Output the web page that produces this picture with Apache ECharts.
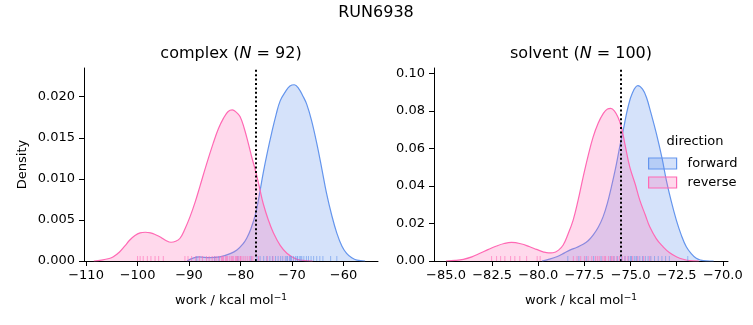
<!DOCTYPE html>
<html>
<head>
<meta charset="utf-8">
<script src="https://cdn.jsdelivr.net/npm/echarts@6/dist/echarts.min.js"></script>
<style>html,body{margin:0;padding:0;background:#fff}#c{width:753px;height:325px}</style>
</head>
<body>
<div id="c"></div>
<script>
// ---- data ----
const complexForwardWork    = [-90.4,-88,-86,-84,-82,-80.7,-79.5,-78.8,-78,-77.05,-76.3,-75.6,-74.8,-73.95,-73.1,-72.3,-71.3,-70.4,-69.55,-68.7,-67.9,-67.15,-66.2,-65.2,-64.2,-63.3,-62.3,-61.3,-60.3,-59.4,-58.4,-57.4,-55.8];
const complexForwardDensity = [0,0.0005,0.0004,0.0005,0.0009,0.00134,0.0021,0.00277,0.0039,0.0058,0.0082,0.0107,0.0132,0.0156,0.0178,0.0195,0.0206,0.0213,0.02146,0.0210,0.0201,0.0191,0.0171,0.01435,0.0112,0.00826,0.0056,0.0034,0.0018,0.00094,0.0004,0.0001,0];
const complexReverseWork    = [-108.5,-107,-105.5,-104.7,-103.5,-102.5,-101.5,-100.5,-99.5,-98.5,-97.5,-96.5,-95.5,-94.5,-93.5,-92.6,-91.75,-90.8,-89.8,-88.8,-87.9,-86.6,-85.3,-84.3,-83.3,-82.4,-81.6,-80.8,-80.1,-79.3,-78.5,-77.8,-77.05,-76.3,-75.6,-74.6,-73.6,-72.3,-71.0,-69.7,-68.45,-66.0];
const complexReverseDensity = [0,0.0001,0.0003,0.00052,0.0011,0.0018,0.00256,0.0031,0.00342,0.0035,0.00343,0.0032,0.0029,0.0025,0.00228,0.0024,0.00277,0.0039,0.0054,0.0072,0.00906,0.0118,0.01435,0.0161,0.0174,0.0182,0.0184,0.0181,0.0176,0.0162,0.01435,0.0126,0.0109,0.0089,0.0070,0.0050,0.0034,0.0019,0.00094,0.0004,0.0001,0];
const solventForwardWork    = [-79.8,-79.4,-79.0,-78.6,-78.29,-77.9,-77.57,-77.3,-77.03,-76.75,-76.49,-76.25,-76.04,-75.8,-75.59,-75.35,-75.14,-74.9,-74.6,-74.35,-74.14,-73.9,-73.6,-73.3,-73.06,-72.8,-72.52,-72.25,-71.98,-71.7,-71.44,-71.2,-70.9,-70.5];
const solventForwardDensity = [0,0.001,0.0023,0.0042,0.0058,0.0073,0.0089,0.0108,0.0138,0.018,0.0235,0.031,0.0394,0.050,0.0607,0.072,0.0819,0.0895,0.0934,0.0915,0.0872,0.079,0.0678,0.055,0.043,0.032,0.0218,0.0138,0.0076,0.0038,0.0014,0.0005,0.0001,0];
const solventReverseWork    = [-85.0,-84.5,-84.06,-83.6,-83.16,-82.7,-82.26,-81.85,-81.45,-80.95,-80.46,-80.1,-79.74,-79.45,-79.2,-78.9,-78.65,-78.4,-78.11,-77.85,-77.57,-77.3,-77.03,-76.75,-76.49,-76.25,-76.07,-75.88,-75.68,-75.5,-75.3,-75.04,-74.75,-74.5,-74.2,-73.96,-73.6,-73.24,-72.9,-72.52,-72.1,-71.8,-71.3];
const solventReverseDensity = [0,0.0003,0.0009,0.0022,0.0041,0.0062,0.008,0.0093,0.0099,0.0092,0.0076,0.0062,0.0049,0.0043,0.0044,0.0058,0.0085,0.014,0.0218,0.032,0.0447,0.056,0.066,0.0735,0.0784,0.081,0.0813,0.080,0.0766,0.0715,0.062,0.050,0.041,0.0324,0.0245,0.0182,0.0118,0.0076,0.0045,0.0023,0.0008,0.0002,0];

const complexForwardRug = [-88.5,-85.0,-84.2,-80.5,-78.0,-76.8,-76.2,-75.5,-74.9,-74.3,-73.8,-73.2,-72.7,-72.2,-71.8,-71.3,-71.0,-70.9,-70.5,-70.3,-70.1,-69.7,-69.3,-69.0,-68.9,-68.5,-68.3,-68.1,-67.7,-67.2,-66.8,-66.3,-65.8,-65.2,-64.6,-64.0,-62.5,-61.3];
const complexReverseRug = [-100.0,-99.5,-98.9,-98.1,-97.4,-96.6,-95.9,-95.0,-90.8,-90.2,-89.5,-88.7,-88.0,-87.4,-86.6,-86.1,-85.5,-85.0,-84.6,-84.1,-83.7,-83.5,-83.3,-82.9,-82.7,-82.5,-82.1,-81.8,-81.6,-81.4,-81.0,-80.8,-80.6,-80.3,-80.0,-79.9,-79.5,-79.1,-78.7,-78.3,-77.9,-77.6,-76.5,-74.8,-73.7];
const solventForwardRug = [-78.4,-77.8,-77.4,-77.0,-76.6,-76.1,-75.9,-75.7,-75.5,-75.3,-75.1,-75.0,-74.95,-74.8,-74.7,-74.65,-74.5,-74.35,-74.2,-74.05,-73.9,-73.7,-73.5,-73.3,-73.1,-72.9,-71.9];
const solventReverseRug = [-82.53,-82.26,-82.04,-81.81,-81.5,-81.27,-81.0,-80.63,-80.06,-79.9,-78.1,-77.9,-77.7,-77.5,-77.3,-77.1,-76.9,-76.8,-76.7,-76.5,-76.4,-76.35,-76.2,-76.05,-76.0,-75.9,-75.75,-75.6,-75.45,-75.3,-75.15,-74.9,-74.6,-74.3,-73.96];

const dottedWork = [-77.05, -75.55];

const complexXTicks = [-110,-100,-90,-80,-70,-60];
const solventXTicks = [-85,-82.5,-80,-77.5,-75,-72.5,-70];
const complexYTicks = [0,0.005,0.010,0.015,0.020];
const solventYTicks = [0,0.02,0.04,0.06,0.08,0.10];

const panelTitles = ['complex', 'solvent'];
const panelN = [92, 100];
const directions = ['forward', 'reverse'];
// ---------------------------------------

const FONT = 'DejaVu Sans';
const BLUE = '#6495ED', PINK = '#FF69B4';
const BLUE_FILL = 'rgba(100,149,237,0.27)', PINK_FILL = 'rgba(255,105,180,0.25)';
const minus = v => (v < 0 ? '\u2212' : '') + Math.abs(v);

function zip(a, b) { return a.map((x, i) => [x, b[i]]); }

const chart = echarts.init(document.getElementById('c'), null, {renderer: 'canvas'});

function xAxis(idx, min, max, ticks, fmt) {
  return {
    type: 'value', gridIndex: idx, min: min, max: max,
    axisLine: {onZero: false, lineStyle: {color: '#000', width: 1}},
    axisTick: {length: 5, lineStyle: {color: '#000'}, customValues: ticks},
    axisLabel: {customValues: ticks, formatter: fmt, color: '#000', fontSize: 13, fontFamily: FONT, margin: 8},
    splitLine: {show: false},
    name: 'work / kcal mol{sup|\u22121}', nameLocation: 'middle', nameGap: 32,
    nameTextStyle: {color: '#000', fontSize: 13, fontFamily: FONT,
      rich: {sup: {fontSize: 9, fontFamily: FONT, color: '#000', verticalAlign: 'top', padding: [0,0,6,0]}}}
  };
}
function yAxis(idx, max, ticks, fmt, name) {
  return {
    type: 'value', gridIndex: idx, min: 0, max: max,
    axisLine: {show: true, lineStyle: {color: '#000', width: 1}},
    axisTick: {show: true, length: 5, lineStyle: {color: '#000'}, customValues: ticks},
    axisLabel: {customValues: ticks, formatter: fmt, color: '#000', fontSize: 13, fontFamily: FONT, margin: 9},
    splitLine: {show: false},
    name: name, nameLocation: 'middle', nameGap: 55,
    nameTextStyle: {color: '#000', fontSize: 13, fontFamily: FONT}
  };
}

function kde(name, idx, work, dens, color, fill, z) {
  return {
    type: 'line', name: name, xAxisIndex: idx, yAxisIndex: idx,
    data: zip(work, dens), showSymbol: false, symbol: 'none',
    smooth: 0.4,
    lineStyle: {color: color, width: 1.2}, itemStyle: {color: fill, borderColor: color},
    areaStyle: {color: fill, opacity: 1, origin: 'start'}, z: z, silent: true
  };
}
function rug(idx, vals, color) {
  return {
    type: 'scatter', name: 'rug' + idx + color, xAxisIndex: idx, yAxisIndex: idx,
    data: vals.map(v => [v, 0]), symbol: 'rect', symbolSize: [1, 5], symbolOffset: [0, -2.5],
    itemStyle: {color: color, opacity: 0.6}, z: 5, silent: true, clip: false
  };
}
function dotted(idx, v) {
  return {
    type: 'line', name: 'dotted' + idx, xAxisIndex: idx, yAxisIndex: idx, data: [],
    markLine: {silent: true, symbol: 'none', label: {show: false},
      lineStyle: {color: '#000', type: [2, 2.4], width: 2},
      data: [{xAxis: v}]}, z: 10
  };
}

const option = {
  animation: false,
  grid: [
    {left: 84, right: 375, top: 68, bottom: 64},
    {left: 434, right: 25, top: 68, bottom: 64}
  ],
  xAxis: [
    xAxis(0, -110.4, -53.3, complexXTicks, minus),
    xAxis(1, -85.65, -69.72, solventXTicks, v => (v < 0 ? '\u2212' : '') + Math.abs(v).toFixed(1))
  ],
  yAxis: [
    yAxis(0, 0.0235, complexYTicks, v => v.toFixed(3), 'Density'),
    yAxis(1, 0.1028, solventYTicks, v => v.toFixed(2), '')
  ],
  legend: {
    data: directions.map((d, i) => ({name: d, icon: 'rect',
      itemStyle: {color: i === 0 ? BLUE_FILL : PINK_FILL, borderColor: i === 0 ? BLUE : PINK, borderWidth: 1.2}})),
    orient: 'vertical', left: 643, top: 152, itemWidth: 28, itemHeight: 11, itemGap: 6,
    textStyle: {color: '#000', fontSize: 13, fontFamily: FONT, padding: [0, 0, 0, 6]},
    selectedMode: false
  },
  graphic: [
    {type: 'text', x: 376, y: 13, style: {text: 'RUN6938', textAlign: 'center', textVerticalAlign: 'middle', fontSize: 16, fontFamily: FONT, fill: '#000'}},
    {type: 'text', x: 231, y: 54, style: {text: panelTitles[0] + ' ({i|N} = ' + panelN[0] + ')', textAlign: 'center', textVerticalAlign: 'middle', fontSize: 16, fontFamily: FONT, fill: '#000', rich: {i: {fontStyle: 'italic', fontSize: 16, fontFamily: FONT}}}},
    {type: 'text', x: 581, y: 54, style: {text: panelTitles[1] + ' ({i|N} = ' + panelN[1] + ')', textAlign: 'center', textVerticalAlign: 'middle', fontSize: 16, fontFamily: FONT, fill: '#000', rich: {i: {fontStyle: 'italic', fontSize: 16, fontFamily: FONT}}}},
    {type: 'text', x: 695, y: 142, style: {text: 'direction', textAlign: 'center', textVerticalAlign: 'middle', fontSize: 13, fontFamily: FONT, fill: '#000'}}
  ],
  series: [
    kde('forward', 0, complexForwardWork, complexForwardDensity, BLUE, BLUE_FILL, 2),
    kde('reverse', 0, complexReverseWork, complexReverseDensity, PINK, PINK_FILL, 3),
    kde('forward', 1, solventForwardWork, solventForwardDensity, BLUE, BLUE_FILL, 2),
    kde('reverse', 1, solventReverseWork, solventReverseDensity, PINK, PINK_FILL, 3),
    rug(0, complexForwardRug, BLUE), rug(0, complexReverseRug, PINK),
    rug(1, solventForwardRug, BLUE), rug(1, solventReverseRug, PINK),
    dotted(0, dottedWork[0]), dotted(1, dottedWork[1])
  ]
};
chart.setOption(option);
</script>
</body>
</html>
